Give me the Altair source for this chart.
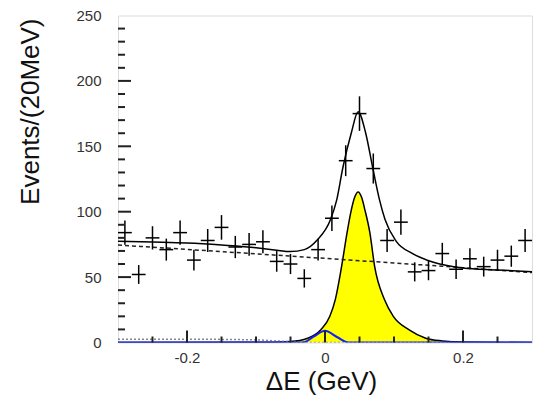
import altair as alt
import pandas as pd

# ---- data ----
bin_x = [-0.29, -0.27, -0.25, -0.23, -0.21, -0.19, -0.17, -0.15, -0.13, -0.11,
         -0.09, -0.07, -0.05, -0.03, -0.01, 0.01, 0.03, 0.05, 0.07, 0.09,
         0.11, 0.13, 0.15, 0.17, 0.19, 0.21, 0.23, 0.25, 0.27, 0.29]
counts = [84, 52, 80, 71, 84, 63, 78, 88, 73, 75,
          77, 62, 60, 49, 71, 95, 139, 175, 133, 78,
          92, 54, 55, 68, 56, 64, 58, 63, 66, 78]
errors = [9.2, 7.2, 8.9, 8.4, 9.2, 7.9, 8.8, 9.4, 8.5, 8.7,
          8.8, 7.9, 7.7, 7.0, 8.4, 9.7, 11.8, 13.2, 11.5, 8.8,
          9.6, 7.3, 7.4, 8.2, 7.5, 8.0, 7.6, 7.9, 8.1, 8.8]
half_bin = 0.01

total_x = [-0.30, -0.25, -0.20, -0.15, -0.10, -0.07, -0.05, -0.03, -0.011, 0.008,
           0.017, 0.026, 0.038, 0.048, 0.059, 0.069, 0.079, 0.087, 0.103, 0.127,
           0.156, 0.20, 0.25, 0.30]
total_y = [77.5, 76.8, 76.0, 74.5, 72.5, 70.5, 69.5, 71.0, 78.5, 94.0,
           109.0, 134.0, 160.0, 176.5, 160.0, 134.0, 109.0, 94.0, 77.5, 68.0,
           61.5, 57.0, 55.5, 54.0]

sig_x = [-0.30, -0.10, -0.05, -0.025, -0.006, 0.007, 0.015, 0.024, 0.032, 0.038,
         0.043, 0.048, 0.053, 0.058, 0.065, 0.072, 0.086, 0.099, 0.122, 0.146,
         0.17, 0.20, 0.30]
sig_y = [0.0, 0.1, 0.8, 3.3, 9.7, 20.0, 33.0, 58.0, 84.0, 101.0,
         111.0, 115.0, 111.0, 101.0, 84.0, 58.0, 33.0, 20.0, 9.7, 3.3,
         1.2, 0.3, 0.0]

bkg_x = [-0.30, -0.15, 0.0, 0.15, 0.30]
bkg_y = [74.5, 69.5, 64.3, 59.0, 53.5]

grey_x = [-0.30, -0.20, -0.10, -0.07, -0.04, -0.02, 0.30]
grey_y = [2.5, 2.5, 2.0, 1.2, 0.4, 0.0, 0.0]

blue_x = [-0.30, -0.032, -0.016, 0.0, 0.018, 0.034, 0.30]
blue_y = [0.0, 0.0, 4.6, 8.9, 4.0, 0.0, 0.0]

x_major = [-0.2, 0.0, 0.2]
x_minor = [-0.25, -0.15, -0.1, -0.05, 0.05, 0.1, 0.15, 0.25]
y_major = [50, 100, 150, 200]
y_minor = [10, 20, 30, 40, 60, 70, 80, 90, 110, 120, 130, 140, 160, 170, 180, 190,
           210, 220, 230, 240]
y_labels = [0, 50, 100, 150, 200, 250]

W, H = 414, 327
FONT = "Liberation Sans"

pts = pd.DataFrame({"x": bin_x, "y": counts, "e": errors})
pts["lo"] = pts["y"] - pts["e"]
pts["hi"] = pts["y"] + pts["e"]
pts["xl"] = pts["x"] - half_bin
pts["xr"] = pts["x"] + half_bin

xs = alt.Scale(domain=[-0.3, 0.3], nice=False, zero=False)
ys = alt.Scale(domain=[0, 250], nice=False)

xaxis = alt.Axis(values=x_major, labelExpr="datum.value < 0 ? '-' + format(-datum.value, '.1f') : (datum.value == 0 ? '0' : format(datum.value, '.1f'))",
                 title="ΔE (GeV)", titleFontSize=26, titleFont=FONT, titleFontWeight="normal",
                 titleColor="#111", titleX=203, titleY=52, titleAlign="center",
                 titleBaseline="bottom",
                 labelFont=FONT, labelFontSize=15, labelColor="#333", labelPadding=8,
                 ticks=False, domain=False, grid=False, labelFlush=False)
yaxis = alt.Axis(values=y_labels, format="d",
                 title="Events/(20MeV)", titleFontSize=26, titleFont=FONT, titleFontWeight="normal",
                 titleColor="#111", titleX=-75, titleY=2.5, titleAngle=270,
                 titleAlign="right", titleBaseline="bottom",
                 labelFont=FONT, labelFontSize=15, labelColor="#333", labelPadding=17,
                 ticks=False, domain=False, grid=False)

base_x = alt.X("x:Q", scale=xs, axis=xaxis)
base_y = alt.Y("y:Q", scale=ys, axis=yaxis)

sig_df = pd.DataFrame({"x": sig_x, "y": sig_y})
area = alt.Chart(sig_df).mark_area(color="#ffff00", interpolate="monotone", clip=True).encode(
    x=base_x, y=base_y)
sig_line = alt.Chart(sig_df).mark_line(color="black", strokeWidth=1.5, interpolate="monotone", clip=True).encode(
    x="x:Q", y="y:Q")

bkg = alt.Chart(pd.DataFrame({"x": bkg_x, "y": bkg_y})).mark_line(
    color="#222", strokeWidth=1.5, strokeDash=[4, 3], interpolate="monotone", clip=True).encode(x="x:Q", y="y:Q")
grey = alt.Chart(pd.DataFrame({"x": grey_x, "y": grey_y})).mark_line(
    color="#888", strokeWidth=1.5, strokeDash=[2, 2], interpolate="monotone", clip=True).encode(x="x:Q", y="y:Q")
total = alt.Chart(pd.DataFrame({"x": total_x, "y": total_y})).mark_line(
    color="black", strokeWidth=1.5, interpolate="monotone", clip=True).encode(x="x:Q", y="y:Q")
blue = alt.Chart(pd.DataFrame({"x": blue_x, "y": blue_y})).mark_line(
    color="#1020ff", strokeWidth=2, interpolate="monotone", clip=True).encode(x="x:Q", y="y:Q")

vbar = alt.Chart(pts).mark_rule(color="black", strokeWidth=1.5).encode(
    x="x:Q", y="lo:Q", y2="hi:Q")
hbar = alt.Chart(pts).mark_rule(color="black", strokeWidth=1.5).encode(
    x="xl:Q", x2="xr:Q", y="y:Q")

def yticks(vals, length):
    return alt.Chart(pd.DataFrame({"v": vals})).mark_rule(color="#222", strokeWidth=2).encode(
        y=alt.Y("v:Q"), x=alt.value(0), x2=alt.value(length))

def xticks(vals, length):
    return alt.Chart(pd.DataFrame({"v": vals})).mark_rule(color="#222", strokeWidth=2).encode(
        x=alt.X("v:Q"), y=alt.value(H), y2=alt.value(H - length))

chart = alt.layer(
    area, sig_line, bkg, grey, total, blue, vbar, hbar,
    yticks(y_major, 13), yticks(y_minor, 7), xticks(x_major, 12), xticks(x_minor, 6),
).properties(
    width=W, height=H,
    autosize="none",
    padding={"left": 110, "top": 7.5, "right": 1, "bottom": 52.5},
).configure_view(
    stroke="#222", strokeWidth=2
).configure(background="white")

chart.save("out.html", embed_options={"renderer": "svg", "actions": False})
